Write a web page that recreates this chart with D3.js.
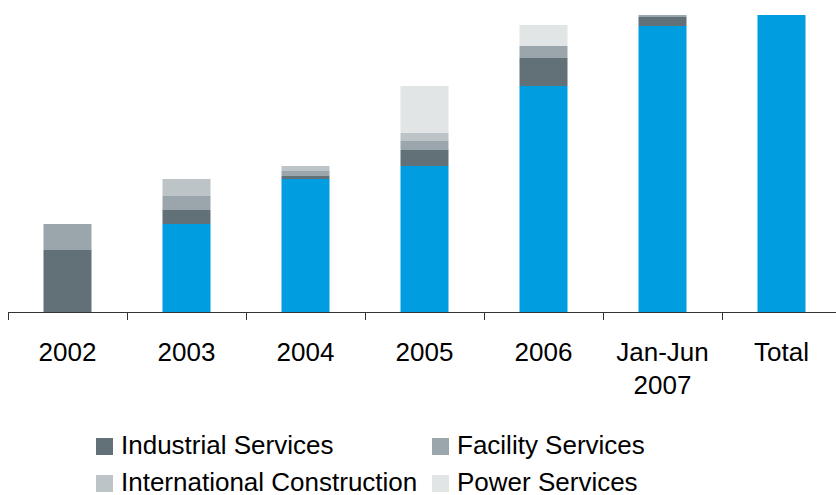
<!DOCTYPE html>
<html>
<head>
<meta charset="utf-8">
<script src="https://cdn.jsdelivr.net/npm/d3@7"></script>
<style>
  body { margin: 0; background: #fff; }
  svg { display: block; font-family: "Liberation Sans", Arial, sans-serif; }
</style>
</head>
<body>
<svg id="chart"></svg>
<script>
// Categories and stacked series (arbitrary units)
const categories = ['2002', '2003', '2004', '2005', '2006', 'Jan-Jun 2007', 'Total'];
const baseValues = [0, 88, 133, 146, 226, 286, 297];
const industrialServices = [62, 14, 3, 16, 28, 9, 0];
const facilityServices = [26, 14, 5, 9, 12, 2, 0];
const internationalConstruction = [0, 17, 5, 8, 0, 0, 0];
const powerServices = [0, 0, 0, 47, 21, 0, 0];

const seriesKeys = ['base', 'Industrial Services', 'Facility Services', 'International Construction', 'Power Services'];
const seriesColors = ['#009ee0', '#627178', '#9ba6ac', '#bdc4c7', '#e1e5e6'];
const legendKeys = ['Industrial Services', 'Facility Services', 'International Construction', 'Power Services'];

const data = categories.map((c, i) => ({
  category: c,
  'base': baseValues[i],
  'Industrial Services': industrialServices[i],
  'Facility Services': facilityServices[i],
  'International Construction': internationalConstruction[i],
  'Power Services': powerServices[i]
}));

const width = 836, height = 495;
const svg = d3.select('#chart').attr('width', width).attr('height', height);

const xScale = d3.scaleBand()
  .domain(categories)
  .range([8, 841])
  .paddingInner(0)
  .paddingOuter(0);

const yScale = d3.scaleLinear()
  .domain([0, 297])
  .range([312, 15]);

const color = d3.scaleOrdinal().domain(seriesKeys).range(seriesColors);

const stacked = d3.stack().keys(seriesKeys)(data);

const barWidth = 48;

// Bars
svg.append('g')
  .selectAll('g')
  .data(stacked)
  .join('g')
  .attr('fill', d => color(d.key))
  .selectAll('rect')
  .data(d => d)
  .join('rect')
  .attr('x', d => xScale(d.data.category) + xScale.bandwidth() / 2 - barWidth / 2)
  .attr('y', d => yScale(d[1]))
  .attr('width', barWidth)
  .attr('height', d => Math.max(0, yScale(d[0]) - yScale(d[1])));

// X axis: line plus ticks at category boundaries
const axisG = svg.append('g');
axisG.append('line')
  .attr('x1', 8).attr('x2', width)
  .attr('y1', 312.5).attr('y2', 312.5)
  .attr('stroke', '#333').attr('stroke-width', 1);

axisG.selectAll('.tick')
  .data(categories)
  .join('line')
  .attr('class', 'tick')
  .attr('x1', d => Math.round(xScale(d)) + 0.5)
  .attr('x2', d => Math.round(xScale(d)) + 0.5)
  .attr('y1', 312).attr('y2', 320)
  .attr('stroke', '#333').attr('stroke-width', 1);

// Category labels (wrap "Jan-Jun 2007")
const labels = axisG.selectAll('.label')
  .data(categories)
  .join('text')
  .attr('class', 'label')
  .attr('text-anchor', 'middle')
  .attr('font-size', 26)
  .attr('fill', '#000')
  .attr('x', d => xScale(d) + xScale.bandwidth() / 2)
  .attr('y', 361);

labels.each(function(d) {
  const parts = d.split(' ');
  const t = d3.select(this);
  const x = xScale(d) + xScale.bandwidth() / 2;
  parts.forEach((p, i) => {
    t.append('tspan').attr('x', x).attr('dy', i === 0 ? 0 : 33).text(p);
  });
});

// Legend
const legendPos = [
  { x: 96, y: 454 },
  { x: 432, y: 454 },
  { x: 96, y: 491 },
  { x: 432, y: 491 }
];

const legend = svg.append('g')
  .selectAll('g')
  .data(legendKeys)
  .join('g')
  .attr('transform', (d, i) => `translate(${legendPos[i].x},${legendPos[i].y})`);

legend.append('rect')
  .attr('x', 0).attr('y', -16)
  .attr('width', 17).attr('height', 17)
  .attr('fill', d => color(d));

legend.append('text')
  .attr('x', 25).attr('y', 0)
  .attr('font-size', 26)
  .attr('fill', '#000')
  .text(d => d);
</script>
</body>
</html>
